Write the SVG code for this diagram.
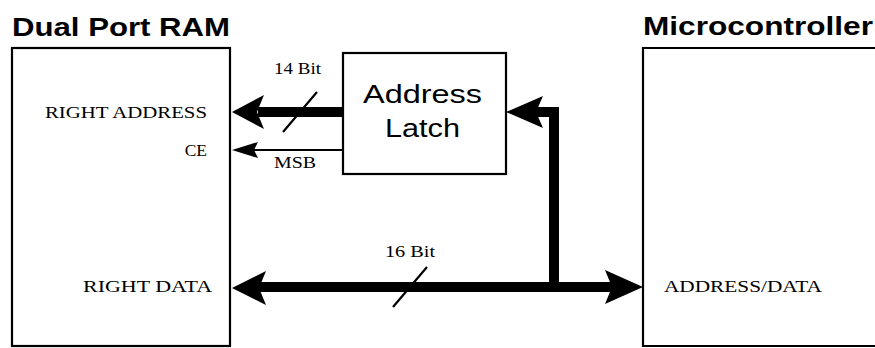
<svg xmlns="http://www.w3.org/2000/svg" width="875" height="348" viewBox="0 0 875 348">
<style>
.box{fill:none;stroke:#000;stroke-width:2.2}
.title{font-family:"Liberation Sans",Arial,sans-serif;font-weight:bold;font-size:25px;fill:#000}
.latch{font-family:"Liberation Sans",Arial,sans-serif;font-size:25px;fill:#000}
.lbl{font-family:"Liberation Serif","Times New Roman",serif;font-size:17.5px;fill:#000}
.small{font-family:"Liberation Serif","Times New Roman",serif;font-size:16px;fill:#000}
.bus{fill:none;stroke:#000;stroke-width:10}
.thin{fill:none;stroke:#000;stroke-width:2}
.slash{fill:none;stroke:#000;stroke-width:2.2}
.head{fill:#000}
</style>
<rect width="875" height="348" fill="#fff"/>
<g id="dual-port-ram">
<rect class="box" x="12" y="48" width="218" height="298"/>
<text class="title" x="12" y="36" textLength="218" lengthAdjust="spacingAndGlyphs">Dual Port RAM</text>
<text class="lbl" x="45" y="118" textLength="162" lengthAdjust="spacingAndGlyphs">RIGHT ADDRESS</text>
<text class="lbl" x="207" y="156" text-anchor="end">CE</text>
<text class="lbl" x="83" y="292" textLength="129" lengthAdjust="spacingAndGlyphs">RIGHT DATA</text>
</g>
<g id="address-latch">
<rect class="box" x="343" y="53" width="163" height="121"/>
<text class="latch" x="363" y="103" textLength="119" lengthAdjust="spacingAndGlyphs">Address</text>
<text class="latch" x="385" y="137" textLength="75" lengthAdjust="spacingAndGlyphs">Latch</text>
</g>
<g id="microcontroller">
<path class="box" d="M880,48 H643 V346 H880"/>
<text class="title" x="643" y="35" textLength="230" lengthAdjust="spacingAndGlyphs">Microcontroller</text>
<text class="lbl" x="664" y="292" textLength="158" lengthAdjust="spacingAndGlyphs">ADDRESS/DATA</text>
</g>
<g id="connectors">
<line class="bus" x1="343" y1="112" x2="258" y2="112"/>
<path class="head" d="M232,112 L264,95 L257,112 L264,129 Z"/>
<line class="slash" x1="283" y1="132" x2="317" y2="92"/>
<text class="small" x="274" y="74" textLength="47" lengthAdjust="spacingAndGlyphs">14 Bit</text>
<line class="thin" x1="343" y1="150" x2="250" y2="150"/>
<path class="head" d="M232,150 L258,142 L254,150 L258,158 Z"/>
<text class="small" x="274" y="168" textLength="42" lengthAdjust="spacingAndGlyphs">MSB</text>
<line class="bus" x1="258" y1="287" x2="612" y2="287"/>
<path class="head" d="M232,288 L266,271 L259,288 L266,305 Z"/>
<path class="head" d="M643,287 L605,270 L612,287 L605,304 Z"/>
<line class="slash" x1="393" y1="307" x2="427" y2="267"/>
<text class="small" x="385" y="257" textLength="50" lengthAdjust="spacingAndGlyphs">16 Bit</text>
<path class="bus" d="M554,292 V112 H536" stroke-linejoin="miter"/>
<path class="head" d="M506,112 L543,96 L536,112 L543,128 Z"/>
</g>
</svg>
